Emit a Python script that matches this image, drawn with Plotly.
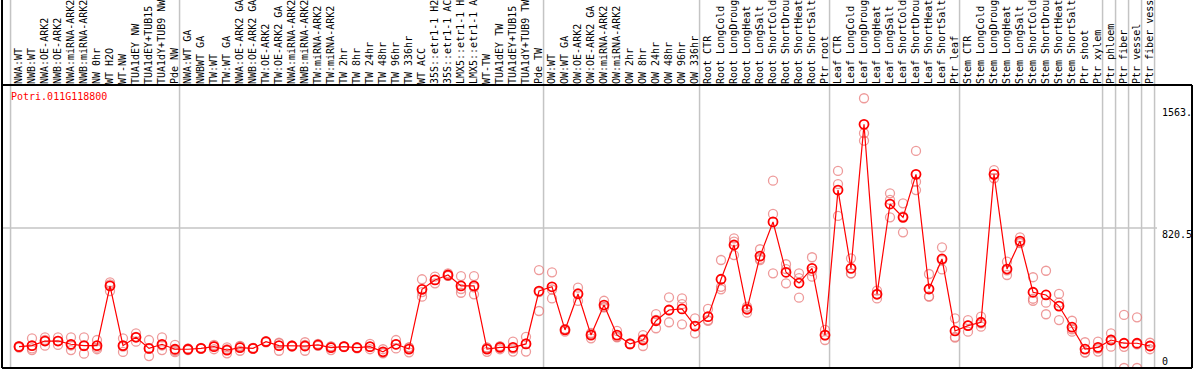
import plotly.graph_objects as go

gene_id = "Potri.011G118800"

categories = [
    "NWA:WT", "NWB:WT", "NWA:OE-ARK2", "NWB:OE-ARK2", "NWA:miRNA-ARK2", "NWB:miRNA-ARK2",
    "NW 0hr", "WT H2O", "WT-NW", "TUA1dEY NW", "TUA1dEY+TUB15", "TUA1dY+TUB9 NW", "Pde NW",
    "NWA:WT GA", "NWBWT GA", "TW:WT", "TW:WT GA", "NWA:OE-ARK2 GA", "NWB:OE-ARK2 GA",
    "TW:OE-ARK2", "TW:OE-ARK2 GA", "NWA:miRNA-ARK2", "NWB:miRNA-ARK2", "TW:miRNA-ARK2",
    "TW:miRNA-ARK2", "TW 2hr", "TW 8hr", "TW 24hr", "TW 48hr", "TW 96hr", "TW 336hr",
    "WT ACC", "35S::etr1-1 H2", "35S::etr1-1 AC", "LMX5::etr1-1 H", "LMX5::etr1-1 A",
    "WT-TW", "TUA1dEY TW", "TUA1dEY+TUB15", "TUA1dY+TUB9 TW", "Pde TW",
    "OW:WT", "OW:WT GA", "OW:OE-ARK2", "OW:OE-ARK2 GA", "OW:miRNA-ARK2", "OW:miRNA-ARK2",
    "OW 2hr", "OW 8hr", "OW 24hr", "OW 48hr", "OW 96hr", "OW 336hr",
    "Root CTR", "Root LongCold", "Root LongDroug", "Root LongHeat", "Root LongSalt",
    "Root ShortCold", "Root ShortDrou", "Root ShortHeat", "Root ShortSalt", "Ptr root",
    "Leaf CTR", "Leaf LongCold", "Leaf LongDroug", "Leaf LongHeat", "Leaf LongSalt",
    "Leaf ShortCold", "Leaf ShortDrou", "Leaf ShortHeat", "Leaf ShortSalt", "Ptr leaf",
    "Stem CTR", "Stem LongCold", "Stem LongDroug", "Stem LongHeat", "Stem LongSalt",
    "Stem ShortCold", "Stem ShortDrou", "Stem ShortHeat", "Stem ShortSalt",
    "Ptr shoot", "Ptr xylem", "Ptr phloem", "Ptr fiber", "Ptr vessel", "Ptr fiber vess",
]

mean_values = [
    125, 131, 158, 158, 139, 131, 131, 481, 131, 180, 115, 139, 110,
    110, 115, 125, 105, 119, 115, 154, 131, 129, 129, 135, 119, 125, 119, 125, 95, 139, 111,
    461, 516, 545, 481, 481, 111, 121, 121, 141, 451,
    476, 223, 434, 193, 369, 193, 141, 164, 277, 340, 346, 246,
    301, 520, 721, 344, 656, 856, 561, 498, 584, 193,
    1043, 584, 1428, 432, 961, 883, 1135, 463, 639, 217,
    248, 268, 1135, 580, 744, 444, 428, 363, 239, 111, 121,
    164, 145, 145, 129,
]

replicate_values = [
    [128, 120, 127], [174, 105, 115], [164, 131, 179], [180, 135, 159], [180, 105, 132],
    [180, 84, 129], [164, 110, 119], [502, 451, 490], [174, 94, 125], [203, 154, 183],
    [164, 70, 112], [180, 105, 132], [135, 101, 93],
    [115, 105, 110], [112, 118, 115], [135, 110, 130], [121, 86, 110], [130, 101, 126],
    [112, 118, 115], [158, 150, 154], [148, 101, 144], [129, 125, 133], [151, 101, 135],
    [141, 130, 134], [105, 125, 127], [125, 122, 128], [115, 120, 122], [141, 110, 124],
    [110, 90, 86], [164, 115, 138], [92, 120, 121],
    [520, 418, 445], [535, 496, 517], [555, 540, 540], [539, 441, 463], [539, 432, 472],
    [95, 120, 118], [110, 127, 126], [154, 96, 113], [183, 96, 144], [574, 334, 445],
    [561, 408, 460], [213, 228, 228], [471, 393, 438], [174, 200, 205], [394, 357, 356],
    [217, 180, 182], [141, 138, 144], [193, 129, 170], [316, 233, 282], [414, 268, 338],
    [408, 256, 374], [291, 203, 244],
    [346, 281, 276], [633, 476, 461], [760, 662, 741], [359, 324, 349], [696, 633, 639],
    [1098, 903, 555], [608, 496, 579], [555, 412, 527], [649, 535, 568], [223, 164, 192],
    [1155, 1078, 891], [643, 555, 554], [1581, 1376, 1332], [453, 408, 435], [1024, 883, 985],
    [965, 795, 889], [1272, 1043, 1092], [551, 418, 420], [707, 578, 632], [291, 178, 182],
    [281, 213, 250], [301, 242, 261], [1160, 1112, 1133], [623, 545, 572], [766, 734, 732],
    [532, 394, 406], [570, 383, 315], [434, 383, 281], [277, 213, 227], [151, 90, 92],
    [154, 96, 113], [203, 125, 164], [311, 0, 124], [297, 0, 138], [148, 110, 129],
]

# group boundaries (index of first category in each block, plus the end)
group_starts = [0, 13, 41, 53, 63, 73, 84, 85, 86, 87, 88]

ytick_vals = [1563, 820.5, 0]
ytick_text = ["1563.", "820.5", "0"]
y_max = 1658.6

FONT = "DejaVu Sans Mono"
idx = list(range(len(categories)))

rep_x, rep_y = [], []
for i, reps in enumerate(replicate_values):
    for v in reps:
        rep_x.append(i)
        rep_y.append(v)

fig = go.Figure()
fig.add_trace(go.Scatter(
    x=rep_x, y=rep_y, mode="markers",
    marker=dict(symbol="circle-open", size=9, color="rgba(232,120,120,0.75)",
                line=dict(width=1.3)),
    hoverinfo="skip", showlegend=False, cliponaxis=True,
))
fig.add_trace(go.Scatter(
    x=idx, y=mean_values, mode="lines+markers",
    line=dict(color="#ff0000", width=1.2),
    marker=dict(symbol="circle-open", size=9, color="#ff0000", line=dict(width=1.8)),
    showlegend=False, cliponaxis=True,
))

shapes = []
# vertical group separators spanning label area too
for k in group_starts:
    shapes.append(dict(type="line", xref="x", yref="paper", x0=k - 0.65, x1=k - 0.65,
                       y0=0, y1=1.31, line=dict(color="#c4c4c4", width=1.5), layer="below"))
# mid horizontal grid line
shapes.append(dict(type="line", xref="paper", yref="y", x0=0, x1=0.9706,
                   y0=ytick_vals[1], y1=ytick_vals[1], line=dict(color="#c4c4c4", width=1.5),
                   layer="below"))
# frame
shapes.append(dict(type="line", xref="paper", yref="paper", x0=0, x1=1, y0=1, y1=1,
                   line=dict(color="black", width=2)))
shapes.append(dict(type="line", xref="paper", yref="paper", x0=0, x1=1, y0=0, y1=0,
                   line=dict(color="black", width=2)))
shapes.append(dict(type="line", xref="paper", yref="paper", x0=0, x1=0, y0=0, y1=1.31,
                   line=dict(color="black", width=2)))
shapes.append(dict(type="line", xref="paper", yref="paper", x0=1, x1=1, y0=0, y1=1,
                   line=dict(color="black", width=2)))

annotations = [
    dict(text=gene_id, xref="paper", yref="paper", x=0.0055, y=0.96, xanchor="left",
         yanchor="middle", showarrow=False, font=dict(family=FONT, size=10, color="#ff0000")),
]
shifts = [-5, 0, 0]
anchors = ["top", "top", "bottom"]
for v, t, s, a in zip(ytick_vals, ytick_text, shifts, anchors):
    annotations.append(dict(text=t, xref="paper", yref="y", x=0.9738, y=v if a == "top" else 0,
                            xanchor="left", yanchor=a, yshift=s if a == "top" else 0,
                            borderpad=0, showarrow=False,
                            font=dict(family=FONT, size=10, color="black")))

fig.update_layout(
    width=1194, height=370,
    margin=dict(l=2, r=2, t=85, b=2, pad=0),
    paper_bgcolor="white", plot_bgcolor="white",
    xaxis=dict(range=[-1.3077, 90.23], side="top", tickmode="array", tickvals=idx,
               ticktext=categories, tickangle=-90, ticks="", showgrid=False,
               zeroline=False, showline=False,
               tickfont=dict(family=FONT, size=10, color="black"), automargin=False),
    yaxis=dict(range=[0, y_max], showticklabels=False, showgrid=False, zeroline=False,
               showline=False, automargin=False),
    shapes=shapes, annotations=annotations,
)

fig.write_html("out.html", config={"displayModeBar": False},
               post_script="document.body.style.margin='0';document.body.style.overflow='hidden';")
